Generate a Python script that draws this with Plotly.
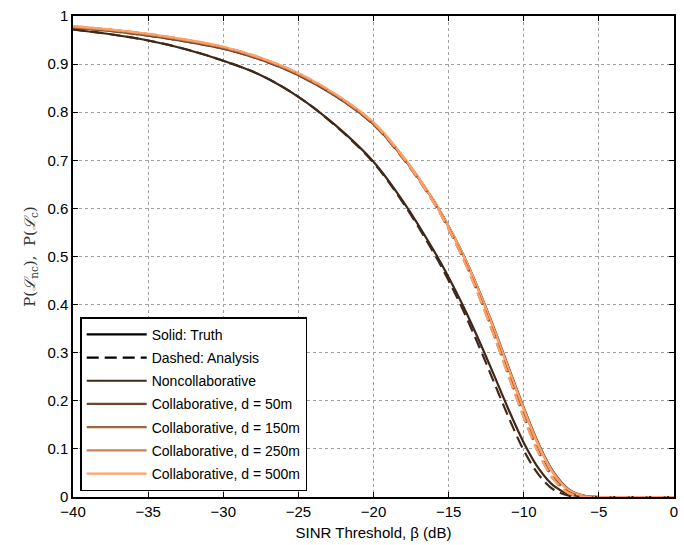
import plotly.graph_objects as go

# SINR threshold (dB)
x_db = [-40, -37.5, -35, -32.5, -30, -27.5, -25, -22.5, -20, -18, -16, -15, -14,
        -13, -12, -11, -10, -9, -8, -7, -6, -5, -2.5, 0]

# Noncollaborative
nc_truth = [0.972, 0.962, 0.949, 0.931, 0.907, 0.877, 0.832, 0.772, 0.697, 0.613,
            0.513, 0.457, 0.395, 0.327, 0.255, 0.181, 0.113, 0.059, 0.023, 0.006,
            0.001, 0, 0, 0]
nc_analysis = [0.972, 0.962, 0.949, 0.931, 0.907, 0.877, 0.832, 0.771, 0.695, 0.610,
               0.508, 0.450, 0.386, 0.315, 0.240, 0.165, 0.097, 0.046, 0.015, 0.003,
               0.0003, 0, 0, 0]

# Collaborative, truth
c50_truth = [0.976, 0.969, 0.959, 0.947, 0.932, 0.909, 0.877, 0.833, 0.775, 0.704,
             0.616, 0.563, 0.502, 0.431, 0.353, 0.269, 0.186, 0.110, 0.051, 0.016,
             0.003, 0, 0, 0]
c150_truth = [0.977, 0.970, 0.961, 0.949, 0.934, 0.911, 0.879, 0.835, 0.777, 0.705,
              0.616, 0.562, 0.501, 0.430, 0.351, 0.267, 0.184, 0.108, 0.049, 0.015,
              0.0025, 0, 0, 0]
c250_truth = [0.978, 0.971, 0.962, 0.950, 0.935, 0.912, 0.880, 0.836, 0.778, 0.706,
              0.617, 0.562, 0.501, 0.429, 0.350, 0.266, 0.183, 0.107, 0.048, 0.014,
              0.002, 0, 0, 0]
c500_truth = [0.979, 0.972, 0.963, 0.951, 0.936, 0.913, 0.881, 0.837, 0.779, 0.707,
              0.617, 0.563, 0.501, 0.429, 0.350, 0.265, 0.182, 0.106, 0.048, 0.014,
              0.002, 0, 0, 0]

# Collaborative, analysis
c50_analysis = [0.976, 0.969, 0.959, 0.947, 0.932, 0.909, 0.877, 0.833, 0.774, 0.702,
                0.613, 0.558, 0.495, 0.421, 0.340, 0.254, 0.169, 0.094, 0.039, 0.010,
                0.001, 0, 0, 0]
c150_analysis = [0.977, 0.970, 0.961, 0.949, 0.934, 0.911, 0.879, 0.835, 0.776, 0.703,
                 0.613, 0.557, 0.494, 0.420, 0.338, 0.252, 0.167, 0.092, 0.037, 0.009,
                 0.0009, 0, 0, 0]
c250_analysis = [0.978, 0.971, 0.962, 0.950, 0.935, 0.912, 0.880, 0.836, 0.777, 0.704,
                 0.613, 0.557, 0.493, 0.419, 0.337, 0.251, 0.166, 0.091, 0.036, 0.008,
                 0.0008, 0, 0, 0]
c500_analysis = [0.979, 0.972, 0.963, 0.951, 0.936, 0.913, 0.881, 0.837, 0.778, 0.705,
                 0.613, 0.557, 0.493, 0.419, 0.337, 0.250, 0.165, 0.090, 0.036, 0.008,
                 0.0008, 0, 0, 0]

legend_names = ["Noncollaborative", "Collaborative, d = 50m", "Collaborative, d = 150m",
                "Collaborative, d = 250m", "Collaborative, d = 500m"]
colors = ["#402819", "#6f462c", "#a0643f", "#cf8152", "#ffa066"]

truth_series = [nc_truth, c50_truth, c150_truth, c250_truth, c500_truth]
analysis_series = [nc_analysis, c50_analysis, c150_analysis, c250_analysis, c500_analysis]

fig = go.Figure()

LW = 2.2
DASH = "12px,6px"
for ys, c in zip(truth_series, colors):
    fig.add_trace(go.Scatter(x=x_db, y=ys, mode="lines", showlegend=False,
                             line=dict(color=c, width=LW, shape="spline", smoothing=1.0),
                             hoverinfo="skip"))
for ys, c in zip(analysis_series, colors):
    fig.add_trace(go.Scatter(x=x_db, y=ys, mode="lines", showlegend=False,
                             line=dict(color=c, width=LW, dash=DASH, shape="spline",
                                       smoothing=1.0),
                             hoverinfo="skip"))

# Legend entries
fig.add_trace(go.Scatter(x=[None], y=[None], mode="lines", name="Solid: Truth",
                         legendgroup="g0", line=dict(color="black", width=LW)))
fig.add_trace(go.Scatter(x=[None], y=[None], mode="lines", name="Dashed: Analysis",
                         legendgroup="g1", line=dict(color="black", width=LW, dash=DASH)))
for i, (n, c) in enumerate(zip(legend_names, colors)):
    fig.add_trace(go.Scatter(x=[None], y=[None], mode="lines", name=n,
                             legendgroup=f"g{i+2}", line=dict(color=c, width=LW)))

axis_common = dict(
    showline=True, linecolor="black", linewidth=1.5, mirror="ticks",
    ticks="inside", ticklen=5, tickcolor="black", tickwidth=1,
    showgrid=True, gridcolor="#a0a0a0", griddash="dot", gridwidth=1,
    zeroline=False,
    tickfont=dict(family="Liberation Sans, Arial, sans-serif", size=15, color="black"),
)

fig.update_xaxes(range=[-40, 0], dtick=5, tick0=0,
                 title=dict(text="SINR Threshold, β (dB)", standoff=9,
                            font=dict(family="Liberation Sans, Arial, sans-serif", size=15,
                                      color="black")),
                 **axis_common)
fig.update_yaxes(range=[0, 1], dtick=0.1, tick0=0,
                 title=dict(text="P(<i>ℒ</i><sub>nc</sub>),  P(<i>ℒ</i><sub>c</sub>)",
                            standoff=8,
                            font=dict(family="DejaVu Serif, Liberation Serif, serif", size=15,
                                      color="#333333")),
                 **axis_common)

fig.update_layout(
    width=684, height=545,
    margin=dict(l=73, r=6, t=16, b=48),
    plot_bgcolor="white", paper_bgcolor="white",
    font=dict(family="Liberation Sans, Arial, sans-serif", color="black"),
    legend=dict(x=0.012, y=0.012, xanchor="left", yanchor="bottom",
                bgcolor="white", bordercolor="black", borderwidth=1.5,
                font=dict(family="Liberation Sans, Arial, sans-serif", size=14, color="black"),
                tracegroupgap=2, itemwidth=60, traceorder="grouped"),
)

fig.write_html("out.html")
